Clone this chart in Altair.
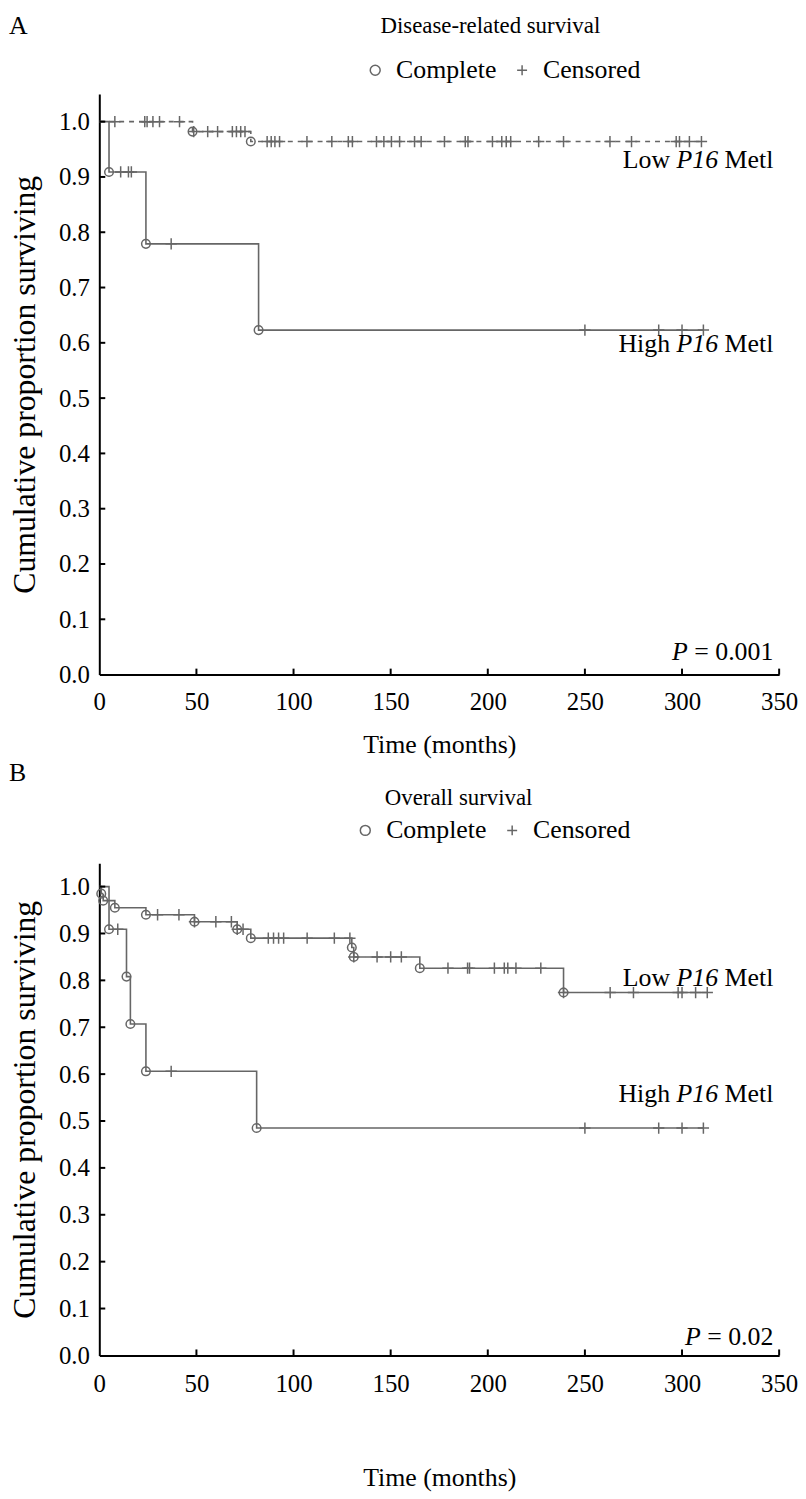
import altair as alt
import pandas as pd

FONT = "Liberation Serif"
GRAY = "#666666"
W = 685
H_TOP, H_BOT = 585, 496
PLUS = "M0,-1L0,1M-1,0L1,0"

X_TICKS = [0, 50, 100, 150, 200, 250, 300, 350]
Y_TICKS = [0.0, 0.1, 0.2, 0.3, 0.4, 0.5, 0.6, 0.7, 0.8, 0.9, 1.0]

# ---- Panel A: disease-related survival ----
drs_low_times = [48, 78]
drs_low_surv = [0.982, 0.964]
drs_low_cens = [8, 23.4, 24.6, 27.6, 31, 41.3, 48.6, 55.8, 60.9, 68.5, 70.6, 72.8, 75,
                86.4, 88.5, 90.4, 92.8, 106.9, 119.7, 128.2, 130.3, 142.7, 146.5, 150.4,
                154.6, 162.3, 165.7, 177.7, 188.4, 189.8, 202.4, 207.2, 209.5, 211.8,
                226.2, 239, 262.9, 274, 297, 298.7, 303.8, 310]
drs_high_times = [5, 24, 82]
drs_high_surv = [0.909, 0.779, 0.623]
drs_high_cens = [11, 15, 16.5, 37, 250, 288, 300, 311]

# ---- Panel B: overall survival ----
os_low_times = [1, 2, 8, 24, 49, 71, 78, 130, 131, 165, 239]
os_low_surv = [0.985, 0.970, 0.955, 0.940, 0.925, 0.909, 0.890, 0.870, 0.850, 0.826, 0.774]
os_low_cens = [30, 41, 49, 60, 68, 71, 74, 87, 89.7, 92.3, 94.9, 107, 121, 129, 131, 143,
               150, 155.5, 179.5, 189.6, 190.6, 203.4, 208.5, 210.3, 214.5, 227.3, 239,
               263, 275, 298, 300, 307, 313]
os_high_times = [5, 14, 16, 24, 81]
os_high_surv = [0.909, 0.808, 0.707, 0.606, 0.485]
os_high_cens = [9.5, 37, 250, 288, 300, 311]


def surv_at(c, times, surv):
    s = 1.0
    for t, v in zip(times, surv):
        if t <= c:
            s = v
    return s


def steps(times, surv, cens):
    end = max(cens + times)
    return pd.DataFrame({"t": [0] + times + [end], "s": [1.0] + surv + [surv[-1]]})


def marks(times, surv, cens):
    rows = [{"t": t, "s": s, "type": "Complete"} for t, s in zip(times, surv)]
    rows += [{"t": c, "s": surv_at(c, times, surv), "type": "Censored"} for c in cens]
    return pd.DataFrame(rows)


xs = alt.Scale(domain=[0, 350], nice=False, zero=True)
ys = alt.Scale(domain=[0, 1.05], nice=False)


def make_axes(label_pad_x, title_pad_x):
    xaxis = alt.Axis(values=X_TICKS, ticks=False, domainColor="black", domainWidth=2,
                     labelFont=FONT, labelFontSize=25, labelColor="black",
                     labelPadding=label_pad_x, labelOverlap=False, labelFlush=False,
                     grid=False, title="Time (months)", titleFont=FONT, titleFontSize=26,
                     titleFontWeight="normal", titleColor="black",
                     titlePadding=title_pad_x)
    yaxis = alt.Axis(values=Y_TICKS, format=".1f", ticks=False, domainColor="black",
                     domainWidth=2, labelFont=FONT, labelFontSize=25, labelColor="black",
                     labelPadding=10, labelOverlap=False, labelFlush=False, grid=False,
                     title="Cumulative proportion surviving", titleFont=FONT,
                     titleFontSize=32, titleFontWeight="normal", titleColor="black",
                     titlePadding=17)
    return xaxis, yaxis


def text_layer(txt, x, y, size, align="center", style="normal"):
    return alt.Chart(pd.DataFrame({"txt": [txt]})).mark_text(
        font=FONT, fontSize=size, align=align, baseline="middle", fontStyle=style,
        color="black").encode(x=alt.value(x), y=alt.value(y), text="txt:N")


def panel(letter, letter_y, title, title_x, title_y, legend_x, legend_y, H,
          label_pad_x, title_pad_x, low, high, low_dash, ptxt, low_lab_s, high_lab_s):
    xaxis, yaxis = make_axes(label_pad_x, title_pad_x)
    X = alt.X("t:Q", scale=xs, axis=xaxis)
    Y = alt.Y("s:Q", scale=ys, axis=yaxis)
    lt, ls, lc = low
    ht, hs, hc = high
    low_line = alt.Chart(steps(lt, ls, lc)).mark_line(
        interpolate="step-after", color=GRAY, strokeWidth=1.6,
        strokeDash=[5, 5] if low_dash else [1, 0]).encode(x=X, y=Y)
    high_line = alt.Chart(steps(ht, hs, hc)).mark_line(
        interpolate="step-after", color=GRAY, strokeWidth=1.6).encode(x=X, y=Y)
    pts = pd.concat([marks(lt, ls, lc), marks(ht, hs, hc)], ignore_index=True)
    points = alt.Chart(pts).mark_point(filled=False, color=GRAY, strokeWidth=1.5,
                                       opacity=1).encode(
        x=X, y=Y,
        shape=alt.Shape("type:N",
                        scale=alt.Scale(domain=["Complete", "Censored"],
                                        range=["circle", PLUS]),
                        legend=alt.Legend(orient="none", legendX=legend_x,
                                          legendY=legend_y, direction="horizontal",
                                          title=None, labelFont=FONT, labelFontSize=26,
                                          labelColor="black", symbolSize=100,
                                          symbolStrokeColor=GRAY,
                                          symbolStrokeWidth=1.5, columnPadding=12,
                                          labelOffset=8, symbolFillColor="white")),
        size=alt.Size("type:N", scale=alt.Scale(domain=["Complete", "Censored"],
                                                range=[75, 130]), legend=None))
    xt = alt.Chart(pd.DataFrame({"t": X_TICKS[1:]})).mark_rule(
        color="black", strokeWidth=2).encode(x=X, y=alt.value(H), y2=alt.value(H - 6))
    yt = alt.Chart(pd.DataFrame({"s": Y_TICKS[1:]})).mark_rule(
        color="black", strokeWidth=2).encode(y=Y, x=alt.value(0), x2=alt.value(6))

    size = 26
    lab = pd.DataFrame({"t": [347, 347], "s": [low_lab_s, high_lab_s],
                        "first": ["Low", "High"]})
    w_last = size * 1.889
    w_sp = size * 0.25
    w_it = size * 1.611
    lb = alt.Chart(lab).encode(x=X, y=Y)
    l3 = lb.mark_text(font=FONT, fontSize=size, align="right", baseline="middle",
                      color="black").encode(text=alt.value("Metl"))
    l2 = lb.mark_text(font=FONT, fontSize=size, align="right", baseline="middle",
                      fontStyle="italic", color="black", dx=-(w_last + w_sp)).encode(
        text=alt.value("P16"))
    l1 = lb.mark_text(font=FONT, fontSize=size, align="right", baseline="middle",
                      color="black", dx=-(w_last + w_sp + w_it + w_sp)).encode(
        text="first:N")

    pdf = pd.DataFrame({"t": [347], "s": [0.04]})
    pb = alt.Chart(pdf).encode(x=X, y=Y)
    wv = size * (0.564 + 0.25 + 0.5 * (len(ptxt) - 3) + 0.25)
    p1 = pb.mark_text(font=FONT, fontSize=size, align="right", baseline="middle",
                      color="black").encode(text=alt.value(ptxt))
    p2 = pb.mark_text(font=FONT, fontSize=size, align="right", baseline="middle",
                      fontStyle="italic", color="black", dx=-(wv + size * 0.25)).encode(
        text=alt.value("P"))

    layers = [low_line, high_line, points, xt, yt,
              text_layer(letter, -91, letter_y, 26, align="left"),
              text_layer(title, title_x, title_y, 23),
              l1, l2, l3, p1, p2]
    return alt.layer(*layers).properties(width=W, height=H)


top = panel("A", -68, "Disease-related survival", 394, -68, 265, -37, H_TOP, 15, 18,
            (drs_low_times, drs_low_surv, drs_low_cens),
            (drs_high_times, drs_high_surv, drs_high_cens),
            True, "= 0.001", 0.930, 0.598)
bottom = panel("B", -91, "Overall survival", 362, -66, 255, -46, H_BOT, 16, 69,
               (os_low_times, os_low_surv, os_low_cens),
               (os_high_times, os_high_surv, os_high_cens),
               False, "= 0.02", 0.805, 0.557)

chart = alt.vconcat(top, bottom, spacing=190, bounds="flush").properties(
    padding={"left": 0, "top": 0, "right": 0, "bottom": 0}
).configure_view(stroke=None).resolve_legend(shape="independent").resolve_scale(
    x="independent", y="independent")

chart.save("out.html", embed_options={"renderer": "svg", "actions": False})
